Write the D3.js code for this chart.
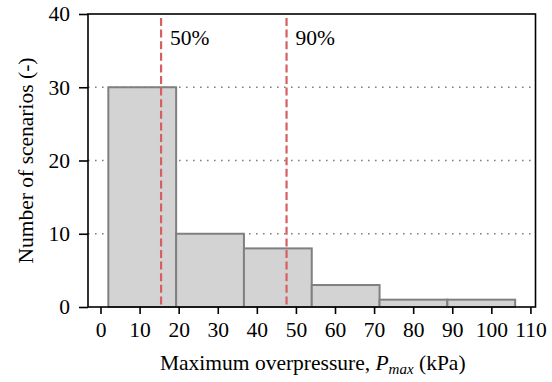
<!DOCTYPE html>
<html>
<head>
<meta charset="utf-8">
<script src="https://cdn.jsdelivr.net/npm/d3@7"></script>
<style>
  html, body { margin: 0; padding: 0; background: #fff; }
</style>
</head>
<body>
<div id="chart"></div>
<script>
// Histogram of maximum overpressure with 50% / 90% percentile markers.
const binEdges = [2.0, 19.35, 36.7, 54.05, 71.4, 88.75, 106.1];
const binCounts = [30, 10, 8, 3, 1, 1];
const percentileLabels = ["50%", "90%"];
const percentileValues = [15.5, 47.6];
const xTicks = [0, 10, 20, 30, 40, 50, 60, 70, 80, 90, 100, 110];
const yTicks = [0, 10, 20, 30, 40];
const gridValues = [10, 20, 30];

const W = 552, H = 382;
const plot = { left: 88, right: 535.5, top: 14, bottom: 307 };
const FONT = "21.5px";
const SERIF = '"Liberation Serif", "Times New Roman", serif';

const svg = d3.select("#chart").append("svg")
    .attr("width", W).attr("height", H);

const x = d3.scaleLinear().domain([-3.2, 111.3]).range([plot.left, plot.right]);
const y = d3.scaleLinear().domain([0, 40]).range([plot.bottom, plot.top]);

function serif(sel) {
    return sel.style("font-family", SERIF).style("font-size", FONT).attr("fill", "#000");
}

// dotted horizontal grid, under the bars
svg.append("g").selectAll("line")
    .data(gridValues)
    .join("line")
    .attr("x1", plot.left).attr("x2", plot.right)
    .attr("y1", (d) => y(d)).attr("y2", (d) => y(d))
    .attr("stroke", "#808080")
    .attr("stroke-width", 1.6)
    .attr("stroke-dasharray", "1.6,5.4");

const bins = binCounts.map((c, i) => ({ x0: binEdges[i], x1: binEdges[i + 1], n: c }));

svg.append("g").selectAll("rect")
    .data(bins)
    .join("rect")
    .attr("x", (d) => x(d.x0))
    .attr("width", (d) => x(d.x1) - x(d.x0))
    .attr("y", (d) => y(d.n))
    .attr("height", (d) => y(0) - y(d.n))
    .attr("fill", "#d3d3d3")
    .attr("stroke", "#808080")
    .attr("stroke-width", 2);

// percentile markers
const marks = svg.append("g").selectAll("g")
    .data(percentileValues.map((v, i) => ({ v, label: percentileLabels[i] })))
    .join("g");

marks.append("line")
    .attr("x1", (d) => x(d.v)).attr("x2", (d) => x(d.v))
    .attr("y1", plot.top + 4).attr("y2", plot.bottom)
    .attr("stroke", "#d65f5f")
    .attr("stroke-width", 2.2)
    .attr("stroke-dasharray", "8,3.6");

marks.append("text")
    .attr("x", (d) => x(d.v) + 9)
    .attr("y", 45)
    .call(serif)
    .text((d) => d.label);

// axes
const xAxis = svg.append("g")
    .attr("transform", `translate(0,${plot.bottom})`)
    .call(d3.axisBottom(x).tickValues(xTicks).tickSize(7).tickPadding(8));
const yAxis = svg.append("g")
    .attr("transform", `translate(${plot.left},0)`)
    .call(d3.axisLeft(y).tickValues(yTicks).tickSize(9).tickPadding(9));

for (const ax of [xAxis, yAxis]) {
    ax.select(".domain").remove();
    ax.selectAll(".tick line").attr("stroke", "#000").attr("stroke-width", 1.6);
    ax.selectAll(".tick text").call(serif);
}

// frame (all four spines)
svg.append("rect")
    .attr("x", plot.left).attr("y", plot.top)
    .attr("width", plot.right - plot.left)
    .attr("height", plot.bottom - plot.top)
    .attr("fill", "none")
    .attr("stroke", "#000")
    .attr("stroke-width", 1.6);

// axis titles
const xt = svg.append("text")
    .attr("x", (plot.left + plot.right) / 2 + 1)
    .attr("y", 370)
    .attr("text-anchor", "middle")
    .call(serif);
xt.append("tspan").text("Maximum overpressure, ");
xt.append("tspan").style("font-style", "italic").text("P");
xt.append("tspan").style("font-style", "italic").style("font-size", "15px")
    .attr("dy", 4).text("max");
xt.append("tspan").attr("dy", -4).text(" (kPa)");

svg.append("text")
    .attr("transform", `translate(33,${(plot.top + plot.bottom) / 2}) rotate(-90)`)
    .attr("text-anchor", "middle")
    .call(serif)
    .text("Number of scenarios (-)");
</script>
</body>
</html>
